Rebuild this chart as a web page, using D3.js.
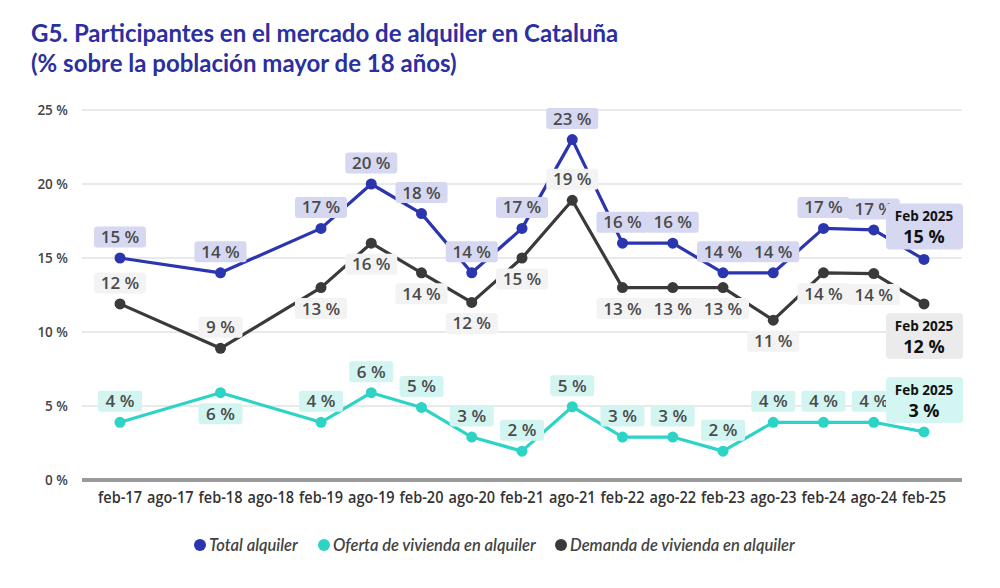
<!DOCTYPE html>
<html>
<head>
  <meta charset="UTF-8">
  <style>
    body { margin: 0; background: #fff; }
    svg { display: block; }
  </style>
</head>
<body>
<div id="chart_div"></div>

<script src="https://d3js.org/d3.v7.min.js"></script>
<script>

let width = 1000, height = 588;

// Data
const tickLabels = ["feb-17", "ago-17", "feb-18", "ago-18", "feb-19", "ago-19", "feb-20", "ago-20",
  "feb-21", "ago-21", "feb-22", "ago-22", "feb-23", "ago-23", "feb-24", "ago-24", "feb-25"];
const dates = ["feb-17", "feb-18", "feb-19", "ago-19", "feb-20", "ago-20", "feb-21", "ago-21",
  "feb-22", "ago-22", "feb-23", "ago-23", "feb-24", "ago-24", "feb-25"];
const totalAlquiler = [15, 14, 17, 20, 18, 14, 17, 23, 16, 16, 14, 14, 17, 16.9, 14.9];
const ofertaAlquiler = [3.9, 5.9, 3.9, 5.9, 4.9, 2.9, 1.95, 4.95, 2.9, 2.9, 1.95, 3.9, 3.9, 3.9, 3.25];
const demandaAlquiler = [11.9, 8.9, 13, 16, 14, 12, 15, 18.9, 13, 13, 13, 10.8, 14, 13.95, 11.9];
const yTicks = [0, 5, 10, 15, 20, 25];
const seriesNames = ["Total alquiler", "Oferta de vivienda en alquiler", "Demanda de vivienda en alquiler"];

// label side per point (1 = above, -1 = below), last point gets the "Feb 2025" box
const totalSide = dates.map(() => 1);
const ofertaSide = [1, -1, 1, 1, 1, 1, 1, 1, 1, 1, 1, 1, 1, 1, 1];
const demandaSide = [1, 1, -1, -1, -1, -1, -1, 1, -1, -1, -1, -1, -1, -1, -1];

const series = [
  {name: seriesNames[0], values: totalAlquiler, side: totalSide, color: "#2b35b0", bg: "#d6d8f1", endBg: "#d6d8f1", endDy: -33},
  {name: seriesNames[1], values: ofertaAlquiler, side: ofertaSide, color: "#2dd4c6", bg: "#d2f5f1", endBg: "#d4f6f2", endDy: -32},
  {name: seriesNames[2], values: demandaAlquiler, side: demandaSide, color: "#3a3a3a", bg: "#f3f3f3", endBg: "#ebebeb", endDy: 32}
];

let svg = d3.select("#chart_div")
    .append("svg")
    .attr("width", width)
    .attr("height", height)
    .attr("viewBox", "0 0 " + width + " " + height);

// title
svg.append("text")
    .attr("x", 31).attr("y", 42)
    .attr("fill", "#2b2f9f")
    .style("font-family", "Lato, sans-serif")
    .style("font-weight", 700)
    .style("font-size", "24px")
    .text("G5. Participantes en el mercado de alquiler en Cataluña");
svg.append("text")
    .attr("x", 31).attr("y", 72)
    .attr("fill", "#2b2f9f")
    .style("font-family", "Lato, sans-serif")
    .style("font-weight", 700)
    .style("font-size", "24px")
    .text("(% sobre la población mayor de 18 años)");

// scales
let x = d3.scalePoint().domain(tickLabels).range([120, 924]);
let y = d3.scaleLinear().domain([0, 25]).range([480, 110]);

// gridlines
svg.append("g")
    .selectAll("line")
    .data(yTicks.filter(d => d > 0))
    .join("line")
    .attr("x1", 82).attr("x2", 962)
    .attr("y1", d => y(d)).attr("y2", d => y(d))
    .attr("stroke", "#d4d4d4")
    .attr("stroke-width", 1.2);

svg.append("line")
    .attr("x1", 82).attr("x2", 962)
    .attr("y1", y(0)).attr("y2", y(0))
    .attr("stroke", "#9a9a9a")
    .attr("stroke-width", 4);

// y labels
svg.append("g")
    .selectAll("text")
    .data(yTicks)
    .join("text")
    .attr("x", 68)
    .attr("y", d => y(d) + 5)
    .attr("text-anchor", "end")
    .attr("fill", "#444")
    .style("font-family", "'Open Sans', sans-serif")
    .style("font-weight", 600)
    .style("font-size", "13.5px")
    .text(d => d + " %");

// x labels (condensed look by squeezing horizontally)
svg.append("g")
    .selectAll("text")
    .data(tickLabels)
    .join("text")
    .attr("transform", d => "translate(" + x(d) + ",503) scale(0.88,1)")
    .attr("text-anchor", "middle")
    .attr("fill", "#333")
    .style("font-family", "'Open Sans', sans-serif")
    .style("font-weight", 600)
    .style("font-size", "16.5px")
    .text(d => d);

// lines
let line = d3.line()
    .x((d, i) => x(dates[i]))
    .y(d => y(d));

svg.append("g")
    .selectAll("path")
    .data(series)
    .join("path")
    .attr("d", s => line(s.values))
    .attr("fill", "none")
    .attr("stroke", s => s.color)
    .attr("stroke-width", 3.2)
    .attr("stroke-linejoin", "round");

svg.append("g")
    .selectAll("g")
    .data(series)
    .join("g")
    .attr("fill", s => s.color)
    .selectAll("circle")
    .data(s => s.values)
    .join("circle")
    .attr("cx", (d, i) => x(dates[i]))
    .attr("cy", d => y(d))
    .attr("r", 5.5);

// data labels
const labelFont = "'Open Sans', sans-serif";
series.forEach(s => {
  let g = svg.append("g");
  s.values.forEach((v, i) => {
    if (i === s.values.length - 1) return;
    let cx = x(dates[i]);
    let cy = y(v) - s.side[i] * 21;
    let txt = Math.round(v) + " %";
    let w = txt.length > 3 ? 52 : 44;
    g.append("rect")
      .attr("x", cx - w / 2).attr("y", cy - 10.5)
      .attr("width", w).attr("height", 21)
      .attr("rx", 3)
      .attr("fill", s.bg);
    g.append("text")
      .attr("x", cx).attr("y", cy + 6)
      .attr("text-anchor", "middle")
      .attr("fill", "#4a4a4a")
      .style("font-family", labelFont)
      .style("font-weight", 600)
      .style("font-size", "17px")
      .text(txt);
  });
  // end box
  let last = s.values.length - 1;
  let bx = x(dates[last]);
  let by = y(s.values[last]) + s.endDy;
  g.append("rect")
    .attr("x", bx - 38).attr("y", by - 23)
    .attr("width", 77).attr("height", 46)
    .attr("rx", 4)
    .attr("fill", s.endBg);
  g.append("text")
    .attr("x", bx).attr("y", by - 5)
    .attr("text-anchor", "middle")
    .attr("fill", "#111")
    .style("font-family", labelFont)
    .style("font-weight", 700)
    .style("font-size", "13.5px")
    .text("Feb 2025");
  g.append("text")
    .attr("x", bx).attr("y", by + 17)
    .attr("text-anchor", "middle")
    .attr("fill", "#111")
    .style("font-family", labelFont)
    .style("font-weight", 700)
    .style("font-size", "18px")
    .text(Math.round(s.values[last]) + " %");
});

// legend
let legendX = [200, 324, 561];
let legend = svg.append("g")
    .selectAll("g")
    .data(series)
    .join("g")
    .attr("transform", (s, i) => "translate(" + legendX[i] + ",545)");
legend.append("circle")
    .attr("r", 6)
    .attr("fill", s => s.color);
legend.append("text")
    .attr("x", 9).attr("y", 5.5)
    .attr("fill", "#444")
    .style("font-family", "Lato, sans-serif")
    .style("font-style", "italic")
    .style("font-weight", 600)
    .style("font-size", "16.5px")
    .text(s => s.name);

</script>

</body>
</html>
